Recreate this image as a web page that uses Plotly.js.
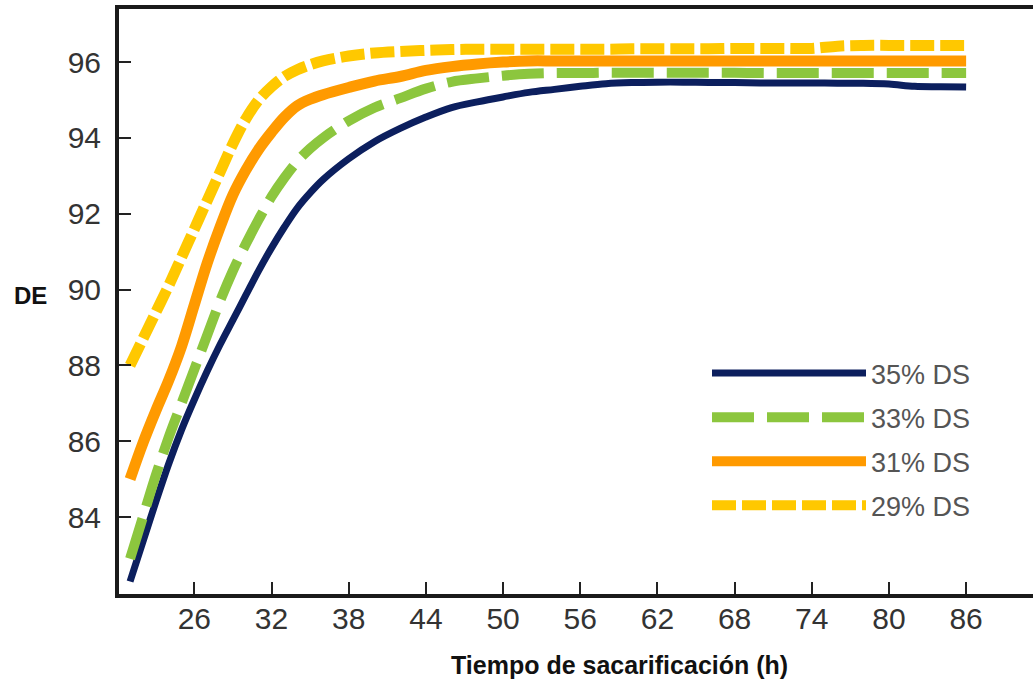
<!DOCTYPE html>
<html>
<head>
<meta charset="utf-8">
<script src="https://cdn.plot.ly/plotly-3.0.1.min.js"></script>
<style>html,body{margin:0;padding:0;background:#fff;}#chart{width:1033px;height:685px;}</style>
</head>
<body>
<div id="chart"></div>
<script>
// Tiempo de sacarificación (h)
const hours = [21,22,23,24,25,26,27,28,29,30,31,32,33,34,35,36,
  38,40,42,44,46,48,50,52,54,56,58,60,62,64,66,68,70,72,74,76,78,80,82,84,86];

const ds35 = [82.3,83.35,84.4,85.4,86.3,87.1,87.85,88.55,89.2,89.85,90.5,91.1,91.65,92.15,92.55,92.9,
  93.45,93.9,94.25,94.55,94.8,94.95,95.08,95.2,95.28,95.36,95.43,95.46,95.47,95.47,95.46,95.46,95.45,95.45,95.45,95.44,95.44,95.42,95.36,95.35,95.34];

const ds33 = [82.9,84.0,85.1,86.1,87.0,87.9,88.8,89.7,90.5,91.2,91.85,92.45,92.95,93.38,93.72,94.0,
  94.45,94.8,95.05,95.3,95.48,95.57,95.64,95.69,95.71,95.71,95.72,95.72,95.72,95.72,95.72,95.72,95.71,95.71,95.71,95.71,95.71,95.71,95.71,95.71,95.71];

const ds31 = [85.0,85.95,86.8,87.6,88.5,89.6,90.7,91.65,92.5,93.15,93.7,94.15,94.55,94.85,95.02,95.14,
  95.33,95.5,95.62,95.78,95.88,95.95,96.0,96.03,96.03,96.03,96.03,96.03,96.03,96.03,96.03,96.03,96.03,96.03,96.03,96.03,96.03,96.03,96.03,96.03,96.03];

const ds29 = [88.0,88.7,89.4,90.1,90.85,91.6,92.35,93.1,93.85,94.5,95.0,95.35,95.62,95.8,95.93,96.03,
  96.16,96.24,96.28,96.31,96.33,96.34,96.34,96.34,96.34,96.34,96.34,96.35,96.35,96.35,96.35,96.36,96.36,96.36,96.36,96.42,96.44,96.44,96.44,96.44,96.44];

const seriesNames = ['35% DS','33% DS','31% DS','29% DS'];
const xTicks = [26,32,38,44,50,56,62,68,74,80,86];
const yTicks = [84,86,88,90,92,94,96];

const traces = [
  {x: hours, y: ds35, name: seriesNames[0], legendgroup:'a', mode:'lines',
   line:{color:'#0c1f5e', width:7, shape:'spline'}},
  {x: hours, y: ds33, name: seriesNames[1], legendgroup:'b', mode:'lines',
   line:{color:'#8cc63e', width:10, dash:'42px,13px', shape:'spline'}},
  {x: hours, y: ds31, name: seriesNames[2], legendgroup:'c', mode:'lines',
   line:{color:'#ff9a00', width:11, shape:'spline'}},
  {x: hours, y: ds29, name: seriesNames[3], legendgroup:'d', mode:'lines',
   line:{color:'#ffc800', width:11, dash:'24px,6px', shape:'spline'}}
];

const layout = {
  width:1033, height:685,
  margin:{l:119, r:0, t:9, b:91},
  paper_bgcolor:'#ffffff', plot_bgcolor:'#ffffff',
  font:{family:'Liberation Sans, Arial, sans-serif', color:'#333'},
  showlegend:true,
  legend:{x:(707-119)/914, y:(594-349)/585, xanchor:'left', yanchor:'top', bgcolor:'rgba(0,0,0,0)',
    itemwidth:154, tracegroupgap:6, traceorder:'grouped',
    font:{family:'Liberation Sans, Arial, sans-serif', size:27, color:'#555'}},
  xaxis:{range:[20.14, 91.2], tickvals:xTicks, ticktext:xTicks.map(String),
    ticks:'inside', ticklen:12, tickwidth:2, tickcolor:'#222',
    showline:true, linewidth:4, linecolor:'#1a1a1a', mirror:true,
    showgrid:false, zeroline:false, ticklabelstandoff:-5,
    tickfont:{size:30, color:'#333'}},
  yaxis:{range:[81.97, 97.4], tickvals:yTicks, ticktext:yTicks.map(String),
    ticks:'inside', ticklen:12, tickwidth:2, tickcolor:'#222',
    showline:true, linewidth:4, linecolor:'#1a1a1a', mirror:false,
    showgrid:false, zeroline:false, ticklabelstandoff:8,
    tickfont:{size:30, color:'#333'}},
  annotations:[
    {text:'<b>Tiempo de sacarificación (h)</b>', xref:'paper', yref:'paper',
     x:(619-119)/914, y:-(665-594)/585, xanchor:'center', yanchor:'middle', showarrow:false,
     font:{size:25, color:'#111'}},
    {text:'<b>DE</b>', xref:'paper', yref:'paper',
     x:-(119-30)/914, y:(594-295)/585, xanchor:'center', yanchor:'middle', showarrow:false,
     font:{size:24, color:'#111'}}
  ]
};

Plotly.newPlot('chart', traces, layout, {displayModeBar:false, staticPlot:true});
</script>
</body>
</html>
